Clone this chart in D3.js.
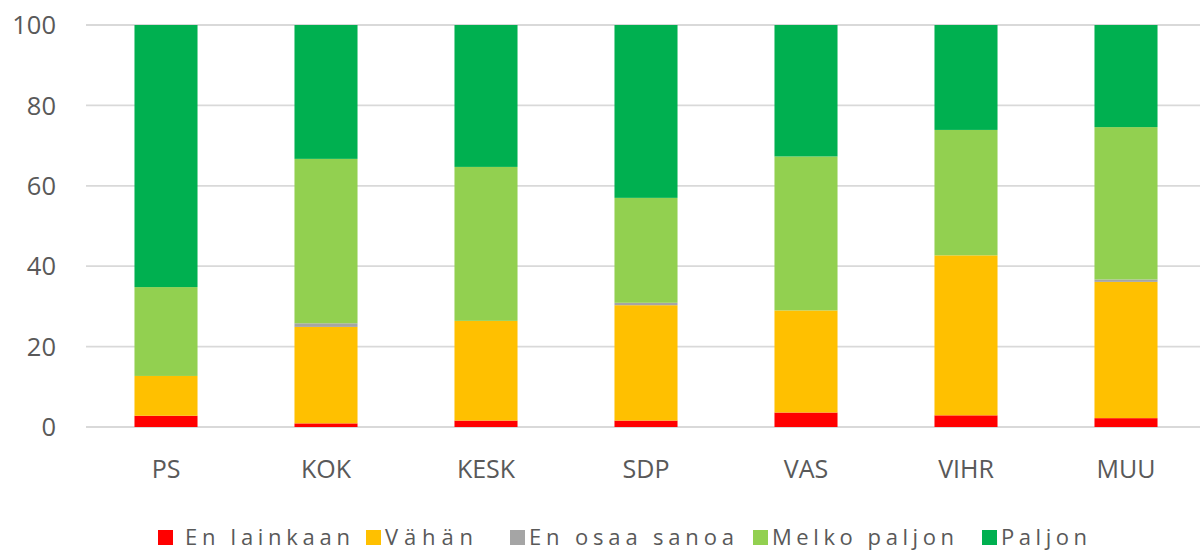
<!DOCTYPE html>
<html>
<head>
<meta charset="utf-8">
<script src="https://cdn.jsdelivr.net/npm/d3@7"></script>
<style>
  body { margin: 0; background: #fff; }
  svg { display: block; font-family: "Open Sans", sans-serif; }
</style>
</head>
<body>
<script>
// parties on the x axis
const parties = ["PS", "KOK", "KESK", "SDP", "VAS", "VIHR", "MUU"];

// answer categories, bottom to top
const answers = ["En lainkaan", "Vähän", "En osaa sanoa", "Melko paljon", "Paljon"];
const colors = ["#ff0000", "#ffc000", "#a5a5a5", "#92d050", "#00b050"];

// share (%) per party, one array per answer
const enLainkaan  = [2.8, 0.9, 1.6, 1.6, 3.6, 2.9, 2.2];
const vahan       = [9.9, 24.0, 24.8, 28.7, 25.4, 39.8, 33.9];
const enOsaa      = [0.0, 0.9, 0.0, 0.6, 0.0, 0.0, 0.6];
const melkoPaljon = [22.1, 40.9, 38.3, 26.1, 38.3, 31.2, 37.9];
const paljon      = [65.2, 33.3, 35.3, 43.0, 32.7, 26.1, 25.4];

const yTicks = [0, 20, 40, 60, 80, 100];

// build rows for the stack
const seriesVals = [enLainkaan, vahan, enOsaa, melkoPaljon, paljon];
const rows = parties.map((p, i) => {
  const r = { party: p };
  answers.forEach((a, j) => { r[a] = seriesVals[j][i]; });
  return r;
});

const width = 1200, height = 550;
const svg = d3.select("body").append("svg")
  .attr("width", width)
  .attr("height", height);

const x = d3.scaleBand()
  .domain(parties)
  .range([86, 1206])
  .paddingInner(0.606)
  .paddingOuter(0.303);

const y = d3.scaleLinear()
  .domain([0, 100])
  .range([427, 25]);

// gridlines
svg.append("g")
  .selectAll("line")
  .data(yTicks)
  .enter()
  .append("line")
    .attr("x1", 86)
    .attr("x2", 1206)
    .attr("y1", d => y(d))
    .attr("y2", d => y(d))
    .attr("stroke", "#d9d9d9")
    .attr("stroke-width", 1.8);

// y axis labels
svg.append("g")
  .selectAll("text")
  .data(yTicks)
  .enter()
  .append("text")
    .attr("x", 56)
    .attr("y", d => y(d))
    .attr("dy", "0.36em")
    .attr("text-anchor", "end")
    .attr("font-size", 25.5)
    .attr("fill", "#595959")
    .text(d => d);

// stacked bars
const stacked = d3.stack().keys(answers)(rows);

svg.append("g")
  .selectAll("g")
  .data(stacked)
  .enter()
  .append("g")
    .attr("fill", (d, i) => colors[i])
  .selectAll("rect")
  .data(d => d)
  .enter()
  .append("rect")
    .attr("x", d => x(d.data.party))
    .attr("width", x.bandwidth())
    .attr("y", d => y(d[1]))
    .attr("height", d => Math.max(0, y(d[0]) - y(d[1])));

// x axis labels
svg.append("g")
  .selectAll("text")
  .data(parties)
  .enter()
  .append("text")
    .attr("x", d => x(d) + x.bandwidth() / 2)
    .attr("y", 478)
    .attr("text-anchor", "middle")
    .attr("font-size", 25)
    .attr("fill", "#595959")
    .text(d => d);

// legend (Excel spreads the letters, so fit each label to its width)
const legendX = [158, 366, 510, 753, 982];
const legendW = [165, 88, 205, 182, 86];

const legend = svg.append("g")
  .selectAll("g")
  .data(answers)
  .enter()
  .append("g")
    .attr("transform", (d, i) => "translate(" + legendX[i] + ",530)");

legend.append("rect")
  .attr("width", 15)
  .attr("height", 15)
  .attr("fill", (d, i) => colors[i]);

legend.append("text")
  .attr("x", (d, i) => i === 0 ? 27 : 19)
  .attr("y", 14.5)
  .attr("font-size", 22)
  .attr("fill", "#595959")
  .attr("textLength", (d, i) => legendW[i])
  .attr("lengthAdjust", "spacing")
  .text(d => d);
</script>
</body>
</html>
